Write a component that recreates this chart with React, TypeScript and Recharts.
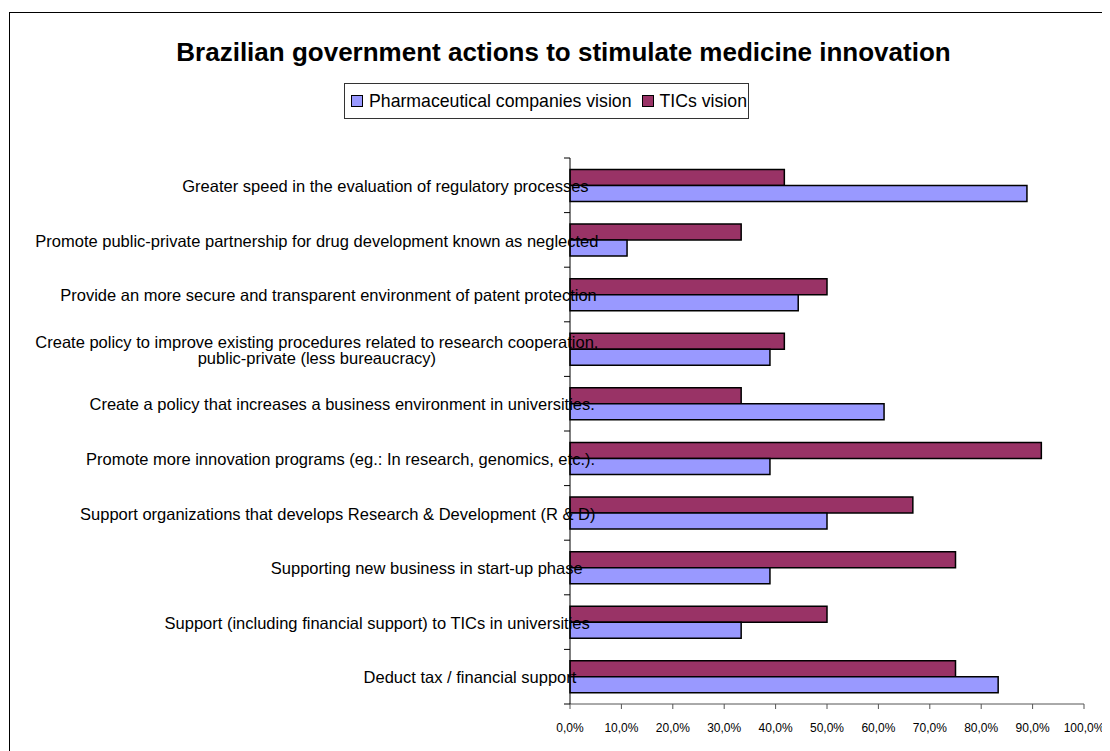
import React from 'react';
import { BarChart, Bar, XAxis, YAxis } from 'recharts';

const categories = [
  'Greater speed in the evaluation of regulatory processes',
  'Promote public-private partnership for drug development known as neglected',
  'Provide an more secure and transparent environment of patent protection',
  'Create policy to improve existing procedures related to research cooperation,\npublic-private (less bureaucracy)',
  'Create a policy that increases a business environment in universities.',
  'Promote more innovation programs (eg.: In research, genomics, etc.).',
  'Support organizations that develops Research & Development (R & D)',
  'Supporting new business in start-up phase',
  'Support (including financial support) to TICs in universities',
  'Deduct tax / financial support',
];

const pharmaVision = [0.889, 0.111, 0.444, 0.389, 0.611, 0.389, 0.5, 0.389, 0.333, 0.833];
const ticsVision = [0.417, 0.333, 0.5, 0.417, 0.333, 0.917, 0.667, 0.75, 0.5, 0.75];
const xTicks = [0, 0.1, 0.2, 0.3, 0.4, 0.5, 0.6, 0.7, 0.8, 0.9, 1];

const COLORS = {
  pharma: '#9999FF',
  tics: '#993366',
};

const FONT = '"Liberation Sans", Arial, sans-serif';
const LABEL_SIZE = 16.5;

const data = categories.map((label, i) => ({
  label,
  pharma: pharmaVision[i],
  tics: ticsVision[i],
}));

let ctx: CanvasRenderingContext2D | null = null;
const measure = (s: string) => {
  if (!ctx) ctx = document.createElement('canvas').getContext('2d');
  if (!ctx) return s.length * 8;
  ctx.font = `${LABEL_SIZE}px ${FONT}`;
  return ctx.measureText(s).width;
};

const formatPct = (v: number) => `${(v * 100).toFixed(1).replace('.', ',')}%`;

// category labels overflow onto the bars a bit, like the original export
function CategoryTick(props: any) {
  const { x, y, payload, index } = props;
  const half = payload && payload.offset ? payload.offset : 27.3;
  const lines = String(payload.value).split('\n');
  const w = measure(lines[0]);
  const end = x - 7 + 0.063 * w;
  const last = index === categories.length - 1;
  return (
    <g>
      <line x1={x - 6} x2={x} y1={y - half} y2={y - half} stroke="#000" />
      {last && <line x1={x - 6} x2={x} y1={y + half} y2={y + half} stroke="#000" />}
      {lines.length === 1 ? (
        <text x={end} y={y} dy="0.4em" textAnchor="end" fontSize={LABEL_SIZE} fontFamily={FONT} fill="#000">
          {lines[0]}
        </text>
      ) : (
        <text fontSize={LABEL_SIZE} fontFamily={FONT} fill="#000">
          <tspan x={end} y={y - 1} textAnchor="end">{lines[0]}</tspan>
          <tspan x={end - w / 2} y={y + 15} textAnchor="middle">{lines[1]}</tspan>
        </text>
      )}
    </g>
  );
}

function LegendSwatch({ color }: { color: string }) {
  return (
    <span
      style={{
        display: 'inline-block',
        width: 10,
        height: 10,
        background: color,
        border: '1px solid #000',
        marginRight: 6,
      }}
    />
  );
}

export default function App() {
  return (
    <div style={{ position: 'relative', width: 1102, height: 743, overflow: 'hidden', fontFamily: FONT }}>
      <div
        style={{
          position: 'absolute',
          left: 1,
          top: 4,
          width: 1300,
          height: 1300,
          borderLeft: '1px solid #000',
          borderTop: '1px solid #000',
        }}
      />
      <div
        style={{
          position: 'absolute',
          left: 0,
          top: 29,
          width: 1111,
          textAlign: 'center',
          fontSize: 26,
          lineHeight: '30px',
          fontWeight: 'bold',
          color: '#000',
        }}
      >
        Brazilian government actions to stimulate medicine innovation
      </div>
      <div
        style={{
          position: 'absolute',
          left: 336,
          top: 75,
          width: 397,
          height: 34,
          border: '1px solid #333',
          display: 'flex',
          alignItems: 'center',
          paddingLeft: 6,
          boxSizing: 'content-box',
          fontSize: 17.7,
          color: '#000',
          whiteSpace: 'nowrap',
        }}
      >
        <LegendSwatch color={COLORS.pharma} />
        <span>Pharmaceutical companies vision</span>
        <span style={{ display: 'inline-block', width: 10 }} />
        <LegendSwatch color={COLORS.tics} />
        <span>TICs vision</span>
      </div>
      <div style={{ position: 'absolute', left: 0, top: 0 }}>
        <BarChart
          width={1102}
          height={743}
          data={data}
          layout="vertical"
          margin={{ top: 150, right: 26, bottom: 17, left: 0 }}
          barCategoryGap="21%"
          barGap={0}
        >
          <XAxis
            type="number"
            domain={[0, 1]}
            ticks={xTicks}
            interval={0}
            tickFormatter={formatPct}
            tick={{ fontSize: 12, fill: '#000', fontFamily: FONT }}
            tickSize={5}
            tickMargin={14}
            stroke="#555"
            height={30}
          />
          <Bar dataKey="tics" name="TICs vision" fill={COLORS.tics} stroke="#000" strokeWidth={1.5} isAnimationActive={false} />
          <Bar dataKey="pharma" name="Pharmaceutical companies vision" fill={COLORS.pharma} stroke="#000" strokeWidth={1.5} isAnimationActive={false} />
          <YAxis
            type="category"
            dataKey="label"
            width={562}
            interval={0}
            tickLine={false}
            tickSize={0}
            tickMargin={0}
            axisLine={{ stroke: '#000' }}
            tick={(p: any) => <CategoryTick {...p} />}
          />
        </BarChart>
      </div>
    </div>
  );
}
